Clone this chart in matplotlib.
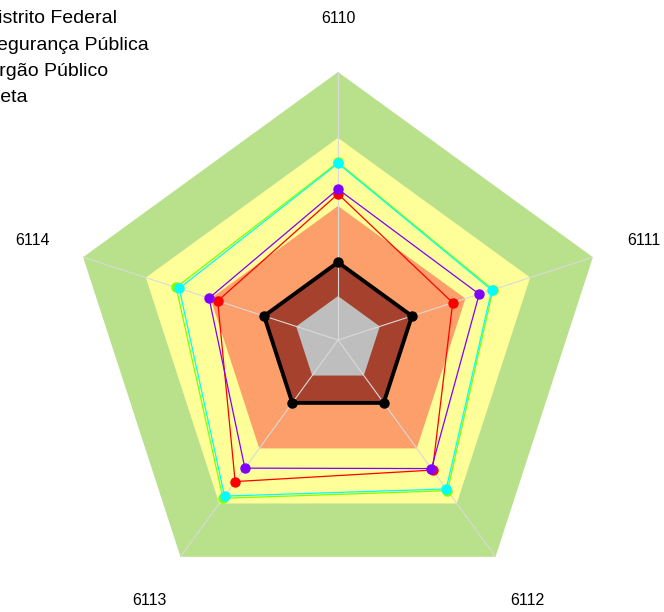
import numpy as np
import matplotlib.pyplot as plt

plt.rcParams["font.family"] = ["Liberation Sans", "DejaVu Sans"]

categories = ["6110", "6111", "6112", "6113", "6114"]

# background bands, outer to inner (0-100 scale)
band_levels = [100, 75.4, 50, 29, 16.4]
band_colors = ["#b9e18c", "#ffff99", "#fc9f6a", "#a5412d", "#bebebe"]

reference = [29, 29, 29, 29, 29]
distrito_federal = [54.5, 45.0, 60.0, 65.3, 47.2]
seguranca_publica = [56.3, 55.4, 59.3, 59.1, 50.6]
orgao_publico = [66.3, 60.8, 69.5, 73.0, 63.5]
meta = [65.9, 60.3, 68.7, 72.0, 62.3]

angles = np.linspace(0, 2 * np.pi, len(categories), endpoint=False)
closed = np.append(angles, angles[0])


def close(values):
    return np.append(values, values[0])


fig = plt.figure(figsize=(6.64, 6.12), dpi=100)
ax = fig.add_axes([70 / 664, 4 / 612, 536 / 664, 536 / 612], projection="polar")
ax.set_theta_offset(np.pi / 2)
ax.set_theta_direction(-1)
ax.set_ylim(0, 100)
ax.axis("off")

for level, color in zip(band_levels, band_colors):
    ax.fill(closed, [level] * len(closed), color=color, lw=0, zorder=1)

for a in angles:
    ax.plot([a, a], [0, 100], color="#d9d9d9", lw=0.8, zorder=2)

series = [
    (distrito_federal, "#ff0000", "Distrito Federal"),
    (seguranca_publica, "#8000ff", "Segurança Pública"),
    (orgao_publico, "#80ff00", "Orgão Público"),
    (meta, "#00ffff", "Meta"),
]
handles = []
for values, color, label in series:
    (line,) = ax.plot(closed, close(values), color=color, lw=0.9,
                      marker="o", markersize=6.5, markevery=range(5),
                      zorder=3, label=label)
    handles.append(line)

ax.plot(closed, close(reference), color="black", lw=2.8,
        marker="o", markersize=6.5, markevery=range(5), zorder=4)

for a, name in zip(angles, categories):
    ax.text(a, 120, name, ha="center", va="center", fontsize=11.5,
            clip_on=False)

fig.legend(handles=handles,
           loc="upper left", bbox_to_anchor=(-68 / 664, 1 - 2 / 612),
           frameon=False, fontsize=14, handlelength=1.5, labelspacing=0.44,
           borderaxespad=0)

fig.savefig("out.png", dpi=100)
